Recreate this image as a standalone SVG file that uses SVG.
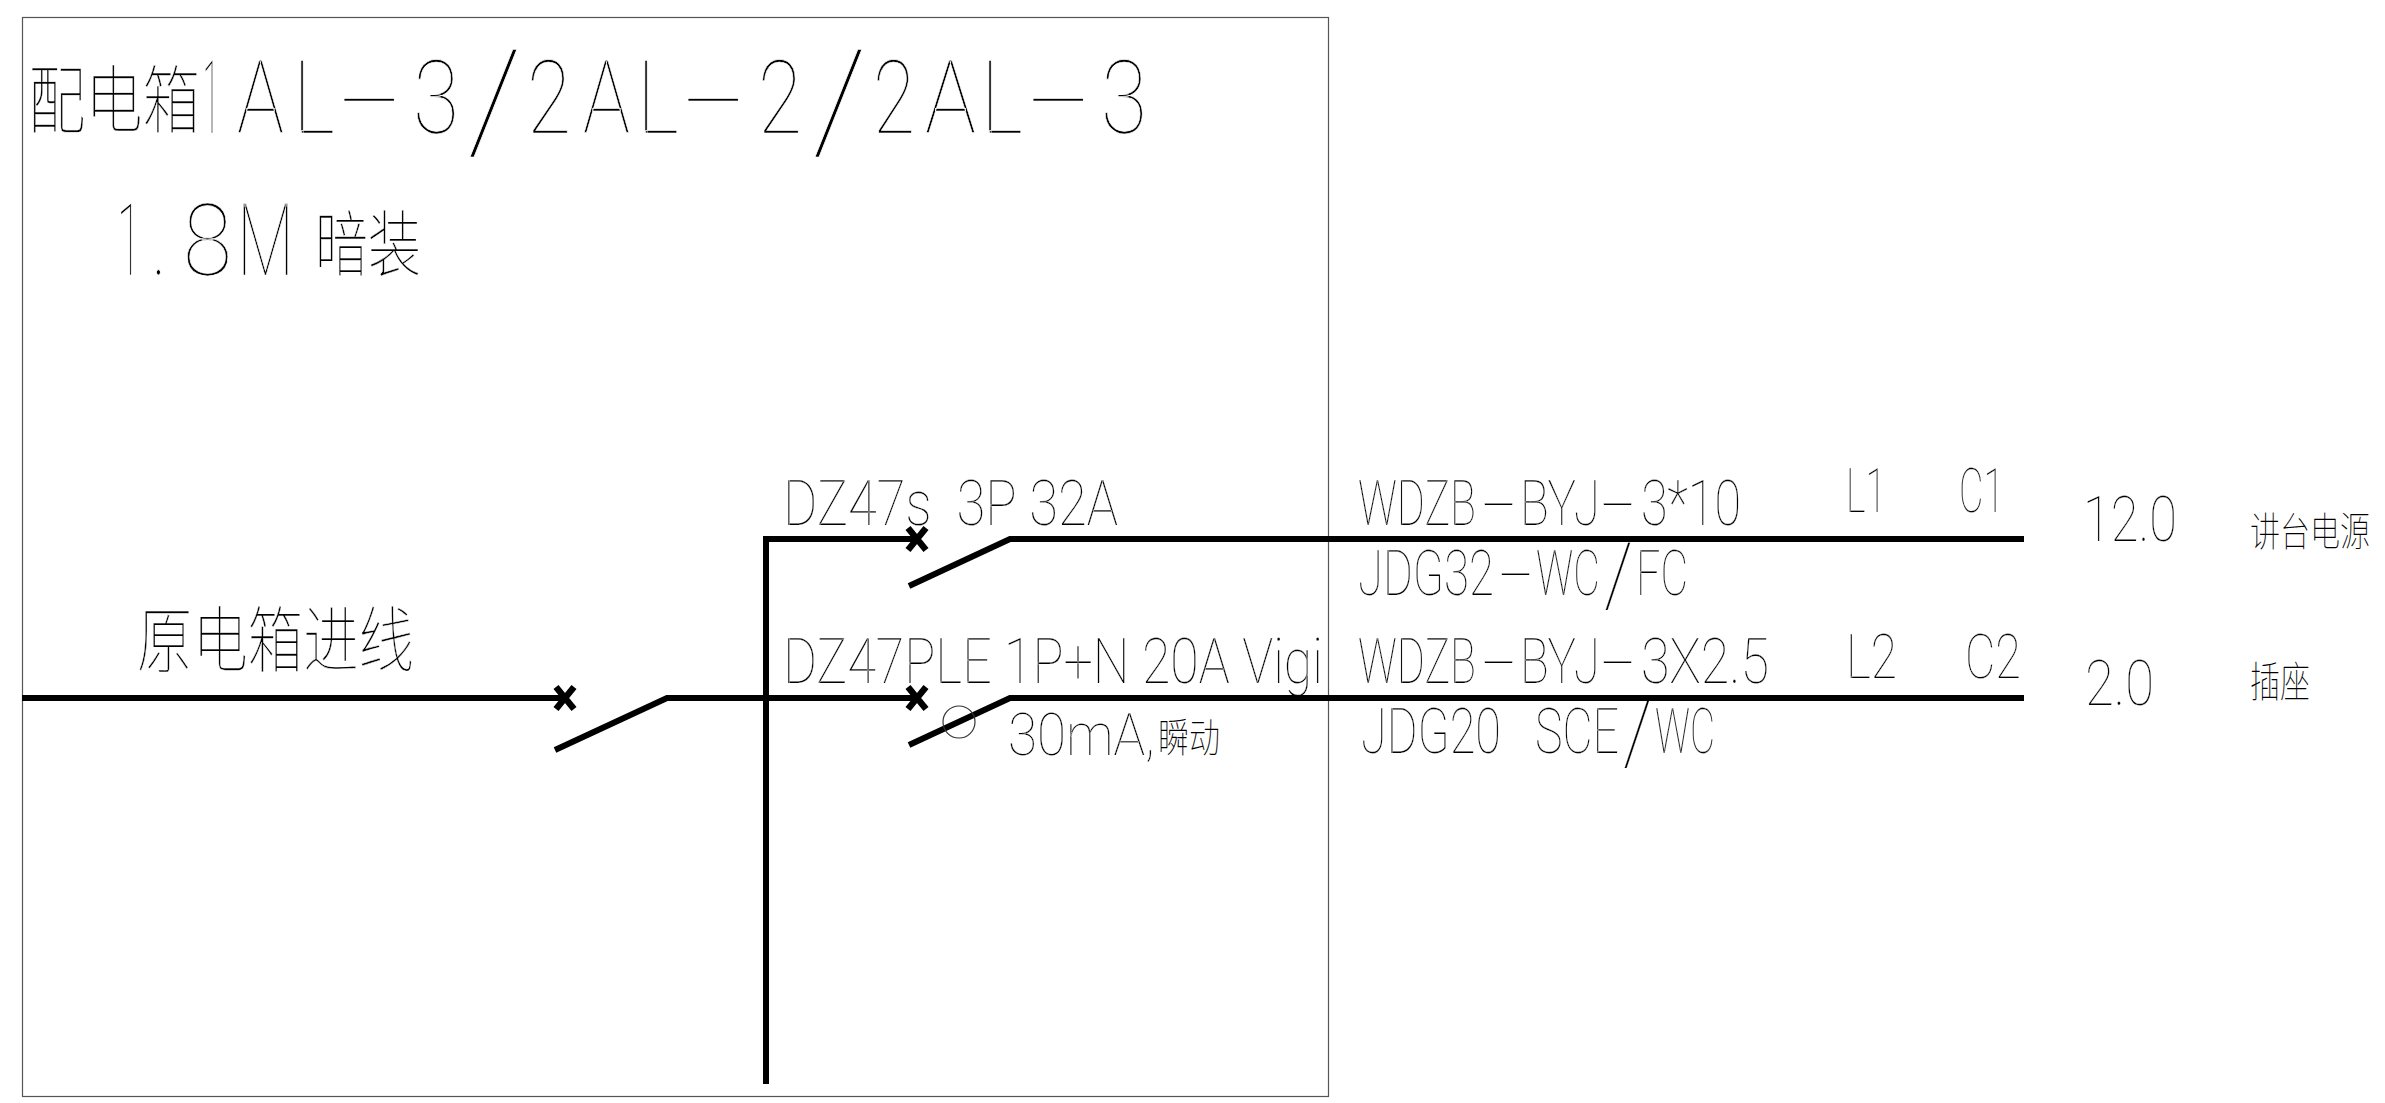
<svg xmlns="http://www.w3.org/2000/svg" width="2385" height="1103" viewBox="0 0 2385 1103">
<style>
text{fill:#000;white-space:pre}
.l{font-family:"Roboto","Liberation Sans",sans-serif;font-weight:100;stroke:#fff;stroke-width:.25;paint-order:fill stroke}
.c{font-family:"Noto Sans CJK SC","Noto Sans CJK JP",sans-serif;font-weight:100;stroke:#fff;stroke-width:.4;paint-order:fill stroke}
.s{stroke-width:0}
.t{font-size:102px;stroke-width:.7}
.m{font-size:63px}
.w{fill:none;stroke:#000;stroke-width:6}
.x{fill:none;stroke:#000;stroke-width:6.500}
</style>
<rect x="0" y="0" width="2385" height="1103" fill="#fff"/>
<g id="frame"><rect x="22.500" y="17.500" width="1306" height="1079" fill="none" stroke="#555" stroke-width="1.200"/></g>
<g id="title">
<text class="c" x="28" y="127" font-size="74" textLength="172" lengthAdjust="spacingAndGlyphs">配电箱</text>
<text class="l t" y="133"><tspan x="203" textLength="16" lengthAdjust="spacingAndGlyphs">1</tspan><tspan x="237" textLength="47" lengthAdjust="spacingAndGlyphs">A</tspan><tspan x="293" textLength="42" lengthAdjust="spacingAndGlyphs">L</tspan><tspan x="337" textLength="66" lengthAdjust="spacingAndGlyphs">-</tspan><tspan x="413" textLength="46" lengthAdjust="spacingAndGlyphs">3</tspan><tspan x="467" dy="16" font-size="140" textLength="55" lengthAdjust="spacingAndGlyphs">/</tspan><tspan x="527" dy="-16" textLength="44" lengthAdjust="spacingAndGlyphs">2</tspan><tspan x="583" textLength="47" lengthAdjust="spacingAndGlyphs">A</tspan><tspan x="637" textLength="42" lengthAdjust="spacingAndGlyphs">L</tspan><tspan x="681" textLength="66" lengthAdjust="spacingAndGlyphs">-</tspan><tspan x="758" textLength="44" lengthAdjust="spacingAndGlyphs">2</tspan><tspan x="812" dy="16" font-size="140" textLength="55" lengthAdjust="spacingAndGlyphs">/</tspan><tspan x="873" dy="-16" textLength="42" lengthAdjust="spacingAndGlyphs">2</tspan><tspan x="925" textLength="51" lengthAdjust="spacingAndGlyphs">A</tspan><tspan x="981" textLength="42" lengthAdjust="spacingAndGlyphs">L</tspan><tspan x="1026" textLength="66" lengthAdjust="spacingAndGlyphs">-</tspan><tspan x="1101" textLength="46" lengthAdjust="spacingAndGlyphs">3</tspan></text>
<text class="l" y="275" font-size="101" style="stroke-width:.7"><tspan x="117" textLength="24" lengthAdjust="spacingAndGlyphs">1</tspan><tspan x="152" textLength="14" lengthAdjust="spacingAndGlyphs">.</tspan><tspan x="183" textLength="49" lengthAdjust="spacingAndGlyphs">8</tspan><tspan x="237" textLength="57" lengthAdjust="spacingAndGlyphs">M</tspan></text>
<text class="c" x="315" y="270" font-size="72" textLength="106" lengthAdjust="spacingAndGlyphs">暗装</text>
<text class="c" x="137" y="666" font-size="72" textLength="277" lengthAdjust="spacingAndGlyphs">原电箱进线</text>
</g>
<g id="labels">
<text class="l m" x="783" y="525" textLength="335" lengthAdjust="spacingAndGlyphs">DZ47s  3P 32A</text>
<text class="l m" x="783" y="683" textLength="540" lengthAdjust="spacingAndGlyphs">DZ47PLE 1P+N 20A Vigi</text>
<text class="l" x="1008" y="755" font-size="60" textLength="147" lengthAdjust="spacingAndGlyphs">30mA,</text>
<text class="c s" x="1158" y="752" font-size="40" textLength="62" lengthAdjust="spacingAndGlyphs">瞬动</text>
<text class="l m" y="525"><tspan x="1358" textLength="118" lengthAdjust="spacingAndGlyphs">WDZB</tspan><tspan x="1481" textLength="36" lengthAdjust="spacingAndGlyphs">-</tspan><tspan x="1520" textLength="80" lengthAdjust="spacingAndGlyphs">BYJ</tspan><tspan x="1600" textLength="36" lengthAdjust="spacingAndGlyphs">-</tspan><tspan x="1641" textLength="100" lengthAdjust="spacingAndGlyphs">3*10</tspan></text>
<text class="l m" y="595"><tspan x="1358" textLength="136" lengthAdjust="spacingAndGlyphs">JDG32</tspan><tspan x="1498" textLength="36" lengthAdjust="spacingAndGlyphs">-</tspan><tspan x="1536" textLength="64" lengthAdjust="spacingAndGlyphs">WC</tspan><tspan x="1604" dy="10" font-size="87" textLength="29" lengthAdjust="spacingAndGlyphs">/</tspan><tspan x="1636" dy="-10" textLength="52" lengthAdjust="spacingAndGlyphs">FC</tspan></text>
<text class="l m" y="683"><tspan x="1358" textLength="118" lengthAdjust="spacingAndGlyphs">WDZB</tspan><tspan x="1481" textLength="36" lengthAdjust="spacingAndGlyphs">-</tspan><tspan x="1520" textLength="80" lengthAdjust="spacingAndGlyphs">BYJ</tspan><tspan x="1600" textLength="36" lengthAdjust="spacingAndGlyphs">-</tspan><tspan x="1641" textLength="128" lengthAdjust="spacingAndGlyphs">3X2.5</tspan></text>
<text class="l m" y="753"><tspan x="1361" textLength="140" lengthAdjust="spacingAndGlyphs">JDG20</tspan><tspan x="1535" textLength="84" lengthAdjust="spacingAndGlyphs">SCE</tspan><tspan x="1623" dy="10" font-size="87" textLength="29" lengthAdjust="spacingAndGlyphs">/</tspan><tspan x="1655" dy="-10" textLength="60" lengthAdjust="spacingAndGlyphs">WC</tspan></text>
<text class="l" x="1846" y="512" font-size="62" textLength="40" lengthAdjust="spacingAndGlyphs">L1</text>
<text class="l" x="1959" y="512" font-size="62" textLength="45" lengthAdjust="spacingAndGlyphs">C1</text>
<text class="l" x="1846" y="678" font-size="62" textLength="51" lengthAdjust="spacingAndGlyphs">L2</text>
<text class="l" x="1965" y="678" font-size="62" textLength="56" lengthAdjust="spacingAndGlyphs">C2</text>
<text class="l m" x="2083" y="541" textLength="94" lengthAdjust="spacingAndGlyphs">12.0</text>
<text class="l m" x="2085" y="705" textLength="69" lengthAdjust="spacingAndGlyphs">2.0</text>
<text class="c s" x="2250" y="546" font-size="40" textLength="120" lengthAdjust="spacingAndGlyphs">讲台电源</text>
<text class="c s" x="2250" y="697" font-size="42" textLength="60" lengthAdjust="spacingAndGlyphs">插座</text>
</g>
<g id="connectors">
<path class="w" d="M22 698H565M555 750L667 698H917M766 1084V539H917"/>
<path class="w" d="M909 586L1010 539H2024M909 745L1010 698H2024"/>
<path class="x" d="M556 687L574 709M574 687L556 709M908 528L926 550M926 528L908 550M908 687L926 709M926 687L908 709"/>
<circle cx="959" cy="722" r="16" fill="none" stroke="#333" stroke-width="1.200"/>
</g>
</svg>
